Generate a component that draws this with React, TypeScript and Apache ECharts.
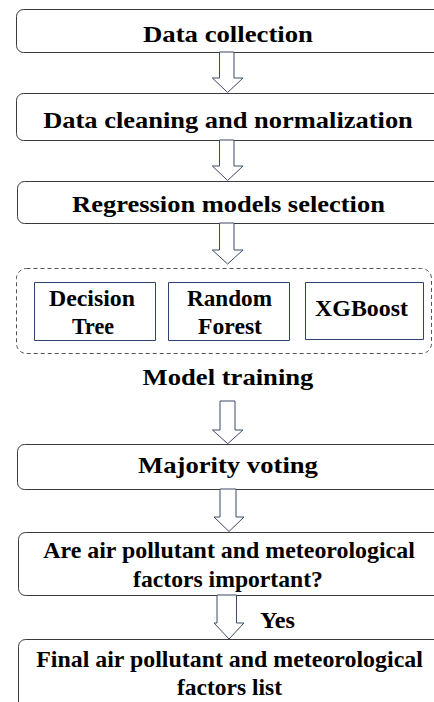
import React, { useEffect, useRef } from "react";
import * as echarts from "echarts";

// ---- content (texts) ----
const stepLabels: string[][] = [
  ["Data collection"],
  ["Data cleaning and normalization"],
  ["Regression models selection"],
  ["Majority voting"],
  ["Are air pollutant and meteorological", "factors important?"],
  ["Final air pollutant and meteorological", "factors list"],
];
const modelLabels: string[][] = [["Decision", "Tree"], ["Random", "Forest"], ["XGBoost"]];
const groupLabel = "Model training";
const branchLabel = "Yes";

// ---- layout ----
const FONT_SIZE = 24;
const FONT_FAMILY = "Liberation Serif";

const stepBoxes = [
  { x: 16, y: 9, w: 440, h: 43 },
  { x: 16, y: 93, w: 440, h: 47 },
  { x: 17, y: 181, w: 440, h: 42 },
  { x: 17, y: 444, w: 440, h: 45 },
  { x: 18, y: 532, w: 440, h: 63 },
  { x: 18, y: 639, w: 440, h: 90 },
];
const stepText = [
  [{ x: 228, y: 33.5, w: 170 }],
  [{ x: 228, y: 119, w: 370 }],
  [{ x: 228.5, y: 203, w: 313 }],
  [{ x: 228, y: 464, w: 180 }],
  [{ x: 229, y: 550, w: 372 }, { x: 228, y: 579, w: 190 }],
  [{ x: 229.5, y: 659, w: 387 }, { x: 229.5, y: 687, w: 105 }],
];
const modelBoxes = [
  { x: 34, y: 282, w: 121, h: 58 },
  { x: 168, y: 282, w: 121, h: 58 },
  { x: 305, y: 282, w: 118, h: 57 },
];
const modelText = [
  [{ x: 92, y: 297.5, w: 86 }, { x: 93, y: 326, w: 42 }],
  [{ x: 229.5, y: 297.5, w: 85 }, { x: 230, y: 326, w: 64 }],
  [{ x: 361.5, y: 308, w: 93 }],
];
const groupBox = { x: 16, y: 268, w: 415, h: 85 };
const groupText = { x: 228, y: 376.5, w: 171 };
const branchText = { x: 277.5, y: 620, w: 35 };

// arrows: shaft left/right, head left/right, top, head start, tip
const arrows = [
  { sl: 219.5, sr: 234, hl: 212.3, hr: 243, top: 52, hs: 78, tip: 92.5 },
  { sl: 219.5, sr: 234, hl: 212.3, hr: 243, top: 140, hs: 166, tip: 180.5 },
  { sl: 219.5, sr: 234, hl: 212.3, hr: 243, top: 223, hs: 250, tip: 264 },
  { sl: 220, sr: 235, hl: 212.5, hr: 243, top: 401, hs: 430, tip: 443.7 },
  { sl: 220, sr: 236, hl: 214, hr: 244, top: 489, hs: 517, tip: 531.5 },
  { sl: 217, sr: 236.5, hl: 214, hr: 244, top: 595, hs: 623, tip: 639 },
];

function measure(text: string): number {
  const span = document.createElement("span");
  span.style.position = "absolute";
  span.style.visibility = "hidden";
  span.style.whiteSpace = "pre";
  span.style.fontFamily = FONT_FAMILY;
  span.style.fontWeight = "bold";
  span.style.fontSize = FONT_SIZE + "px";
  span.textContent = text;
  document.body.appendChild(span);
  const w = span.getBoundingClientRect().width;
  document.body.removeChild(span);
  return w;
}

function textEl(text: string, pos: { x: number; y: number; w: number }) {
  const mw = measure(text);
  const sx = mw > 0 ? pos.w / mw : 1;
  return {
    type: "text",
    x: pos.x,
    y: pos.y,
    scaleX: sx,
    z: 10,
    style: {
      text,
      x: 0,
      y: 0,
      fill: "#000",
      fontSize: FONT_SIZE,
      fontFamily: FONT_FAMILY,
      fontWeight: "bold",
      textAlign: "center",
      textVerticalAlign: "middle",
    },
  };
}

export default function App() {
  const ref = useRef<HTMLDivElement>(null);
  useEffect(() => {
    if (!ref.current) return;
    const chart = echarts.init(ref.current, null, { renderer: "svg" });
    const elements: any[] = [];

    stepBoxes.forEach((b) => {
      elements.push({
        type: "rect",
        shape: { x: b.x + 0.5, y: b.y + 0.5, width: b.w, height: b.h, r: 7 },
        style: { fill: "#ffffff", stroke: "#3a3a3a", lineWidth: 1 },
      });
    });
    stepLabels.forEach((lines, i) => {
      lines.forEach((line, j) => elements.push(textEl(line, stepText[i][j])));
    });

    elements.push({
      type: "rect",
      shape: { x: groupBox.x + 0.5, y: groupBox.y + 0.5, width: groupBox.w, height: groupBox.h, r: 10 },
      style: { fill: "none", stroke: "#555555", lineWidth: 1, lineDash: [4, 3] },
    });
    modelBoxes.forEach((b) => {
      elements.push({
        type: "rect",
        shape: { x: b.x + 0.5, y: b.y + 0.5, width: b.w, height: b.h },
        style: { fill: "#ffffff", stroke: "#2e4374", lineWidth: 1 },
      });
    });
    modelLabels.forEach((lines, i) => {
      lines.forEach((line, j) => elements.push(textEl(line, modelText[i][j])));
    });
    elements.push(textEl(groupLabel, groupText));
    elements.push(textEl(branchLabel, branchText));

    arrows.forEach((a) => {
      const cx = (a.hl + a.hr) / 2;
      elements.push({
        type: "polygon",
        shape: {
          points: [
            [a.sl, a.top],
            [a.sr, a.top],
            [a.sr, a.hs],
            [a.hr, a.hs],
            [cx, a.tip],
            [a.hl, a.hs],
            [a.sl, a.hs],
          ],
        },
        style: { fill: "#ffffff", stroke: "#3b4a66", lineWidth: 1 },
        z: 5,
      });
    });

    chart.setOption({
      animation: false,
      backgroundColor: "#ffffff",
      graphic: { elements },
    });
    return () => chart.dispose();
  }, []);
  return (
    <div
      ref={ref}
      style={{ position: "fixed", left: 0, top: 0, width: 434, height: 702, background: "#fff" }}
    />
  );
}
